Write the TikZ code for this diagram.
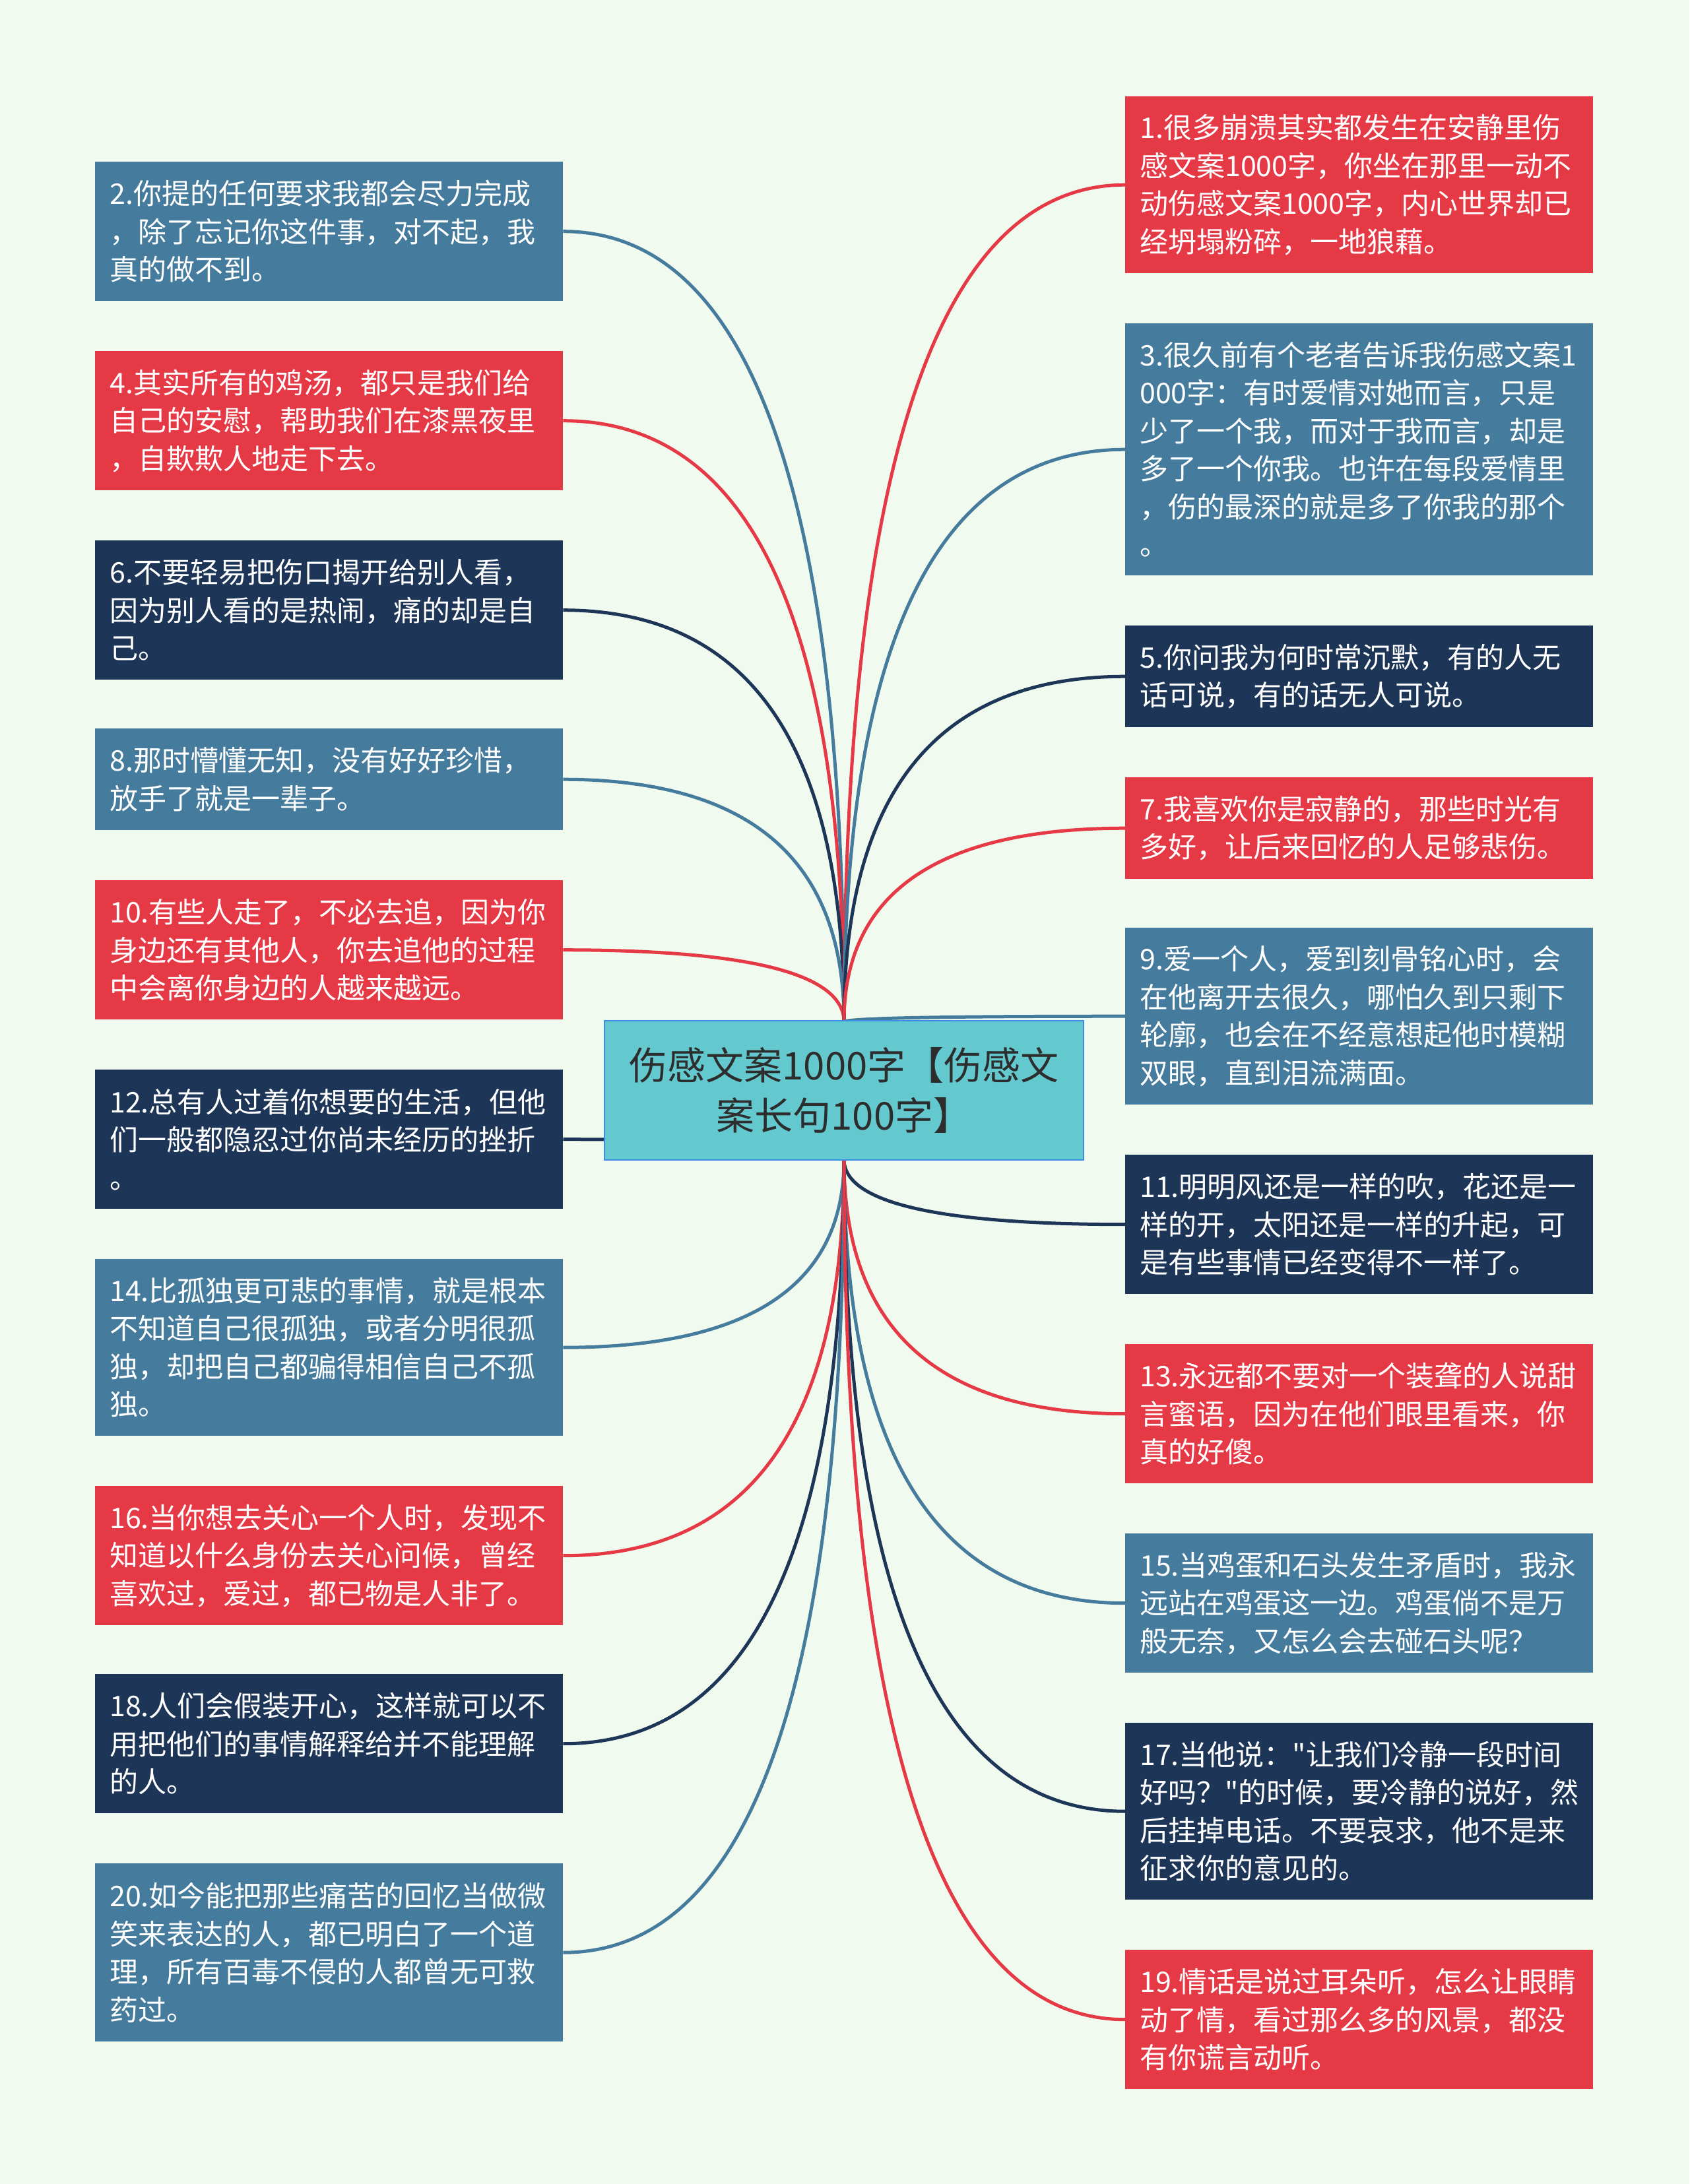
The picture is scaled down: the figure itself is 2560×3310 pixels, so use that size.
\documentclass[tikz,border=0pt]{standalone}
\usepackage{fontspec}
\usetikzlibrary{calc}
\newfontfamily\cjkfont{Noto Sans CJK SC}
\definecolor{bg}{HTML}{F1FAEE}
\definecolor{cred}{HTML}{E63946}
\definecolor{cblue}{HTML}{457B9D}
\definecolor{cnavy}{HTML}{1D3557}
\definecolor{ccyan}{HTML}{63C9CF}
\definecolor{cborder}{HTML}{3C8CE6}
\definecolor{ctext}{HTML}{2D2D2D}
\tikzset{
  leaf/.style={rectangle, fill=#1, text=white, anchor=north west, inner xsep=22pt, inner ysep=0pt,
    text width=665pt, align=left, font=\cjkfont\fontsize{43}{57.5}\selectfont},
  conn/.style={draw=#1, line width=5pt},
  rootbox/.style={rectangle, fill=ccyan, draw=cborder, line width=2.5pt, text=ctext,
    minimum width=726pt, minimum height=211pt, align=center, font=\cjkfont\fontsize{58}{76}\selectfont}
}
\begin{document}
\begin{tikzpicture}[x=1pt,y=-1pt]
\useasboundingbox (0,0) rectangle (2560,3310);
\fill[bg] (0,0) rectangle (2560,3310);

% left boxes
\node[leaf=cblue, minimum height=211pt] (b2) at (144,245) {2.你提的任何要求我都会尽力完成\\，除了忘记你这件事，对不起，我\\真的做不到。};
\node[leaf=cred, minimum height=211pt] (b4) at (144,532) {4.其实所有的鸡汤，都只是我们给\\自己的安慰，帮助我们在漆黑夜里\\，自欺欺人地走下去。};
\node[leaf=cnavy, minimum height=211pt] (b6) at (144,819) {6.不要轻易把伤口揭开给别人看，\\因为别人看的是热闹，痛的却是自\\己。};
\node[leaf=cblue, minimum height=154pt] (b8) at (144,1104) {8.那时懵懂无知，没有好好珍惜，\\放手了就是一辈子。};
\node[leaf=cred, minimum height=211pt] (b10) at (144,1334) {10.有些人走了，不必去追，因为你\\身边还有其他人，你去追他的过程\\中会离你身边的人越来越远。};
\node[leaf=cnavy, minimum height=211pt] (b12) at (144,1621) {12.总有人过着你想要的生活，但他\\们一般都隐忍过你尚未经历的挫折\\。};
\node[leaf=cblue, minimum height=268pt] (b14) at (144,1908) {14.比孤独更可悲的事情，就是根本\\不知道自己很孤独，或者分明很孤\\独，却把自己都骗得相信自己不孤\\独。};
\node[leaf=cred, minimum height=211pt] (b16) at (144,2252) {16.当你想去关心一个人时，发现不\\知道以什么身份去关心问候，曾经\\喜欢过，爱过，都已物是人非了。};
\node[leaf=cnavy, minimum height=211pt] (b18) at (144,2537) {18.人们会假装开心，这样就可以不\\用把他们的事情解释给并不能理解\\的人。};
\node[leaf=cblue, minimum height=270pt] (b20) at (144,2824) {20.如今能把那些痛苦的回忆当做微\\笑来表达的人，都已明白了一个道\\理，所有百毒不侵的人都曾无可救\\药过。};

% right boxes
\node[leaf=cred, minimum height=268pt] (b1) at (1705,146) {1.很多崩溃其实都发生在安静里伤\\感文案1000字，你坐在那里一动不\\动伤感文案1000字，内心世界却已\\经坍塌粉碎，一地狼藉。};
\node[leaf=cblue, minimum height=382pt] (b3) at (1705,490) {3.很久前有个老者告诉我伤感文案1\\000字：有时爱情对她而言，只是\\少了一个我，而对于我而言，却是\\多了一个你我。也许在每段爱情里\\，伤的最深的就是多了你我的那个\\。};
\node[leaf=cnavy, minimum height=154pt] (b5) at (1705,948) {5.你问我为何时常沉默，有的人无\\话可说，有的话无人可说。};
\node[leaf=cred, minimum height=154pt] (b7) at (1705,1178) {7.我喜欢你是寂静的，那些时光有\\多好，让后来回忆的人足够悲伤。};
\node[leaf=cblue, minimum height=268pt] (b9) at (1705,1406) {9.爱一个人，爱到刻骨铭心时，会\\在他离开去很久，哪怕久到只剩下\\轮廓，也会在不经意想起他时模糊\\双眼，直到泪流满面。};
\node[leaf=cnavy, minimum height=211pt] (b11) at (1705,1750) {11.明明风还是一样的吹，花还是一\\样的开，太阳还是一样的升起，可\\是有些事情已经变得不一样了。};
\node[leaf=cred, minimum height=211pt] (b13) at (1705,2037) {13.永远都不要对一个装聋的人说甜\\言蜜语，因为在他们眼里看来，你\\真的好傻。};
\node[leaf=cblue, minimum height=211pt] (b15) at (1705,2324) {15.当鸡蛋和石头发生矛盾时，我永\\远站在鸡蛋这一边。鸡蛋倘不是万\\般无奈，又怎么会去碰石头呢？};
\node[leaf=cnavy, minimum height=268pt] (b17) at (1705,2611) {17.当他说："让我们冷静一段时间\\好吗？"的时候，要冷静的说好，然\\后挂掉电话。不要哀求，他不是来\\征求你的意见的。};
\node[leaf=cred, minimum height=211pt] (b19) at (1705,2955) {19.情话是说过耳朵听，怎么让眼睛\\动了情，看过那么多的风景，都没\\有你谎言动听。};

% root connection points
\coordinate (rt) at (1279,1549);
\coordinate (rb) at (1279,1757);

% connectors: quadratic-like curves from root to each box
\foreach \b/\c/\r/\s in {b2/cblue/rt/east, b4/cred/rt/east, b6/cnavy/rt/east, b8/cblue/rt/east, b10/cred/rt/east,
                         b1/cred/rt/west, b3/cblue/rt/west, b5/cnavy/rt/west, b7/cred/rt/west, b9/cblue/rt/west,
                         b12/cnavy/rb/east, b14/cblue/rb/east, b16/cred/rb/east, b18/cnavy/rb/east, b20/cblue/rb/east,
                         b11/cnavy/rb/west, b13/cred/rb/west, b15/cblue/rb/west, b17/cnavy/rb/west, b19/cred/rb/west}{
  \coordinate (k) at (\r |- \b.\s);
  \draw[conn=\c] (\r) .. controls ($(\r)!0.667!(k)$) and ($(\b.\s)!0.667!(k)$) .. (\b.\s);
}

% root
\node[rootbox] (root) at (1279,1652.5) {伤感文案1000字【伤感文\\案长句100字】};
\end{tikzpicture}
\end{document}
